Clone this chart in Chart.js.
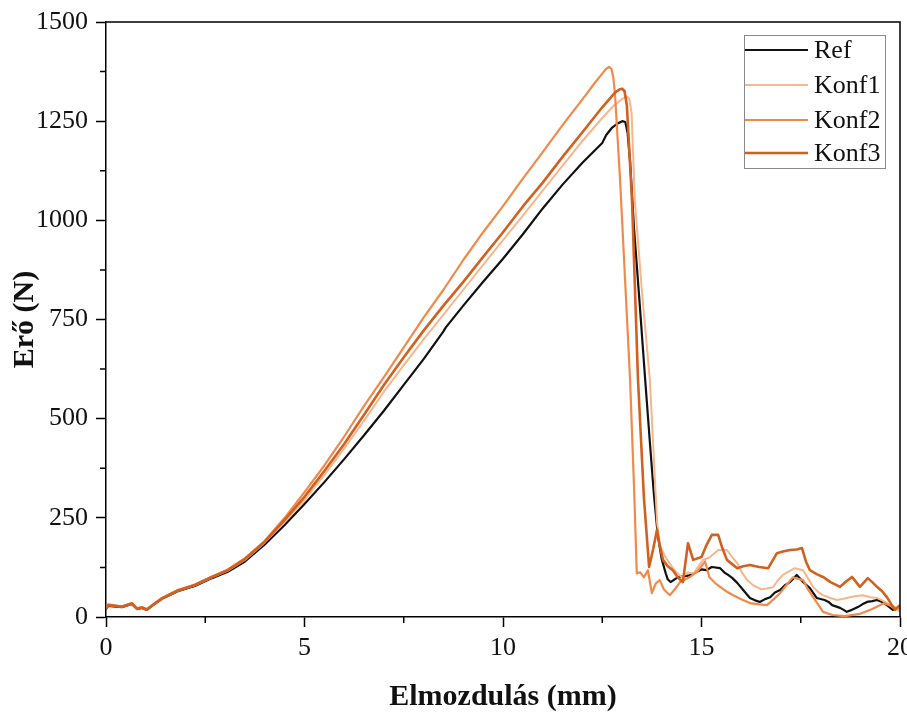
<!DOCTYPE html>
<html>
<head>
<meta charset="utf-8">
<script src="https://cdn.jsdelivr.net/npm/chart.js@4"></script>
<style>
html, body { margin: 0; padding: 0; background: #fff; }
</style>
</head>
<body>
<canvas id="graphique" width="907" height="717"></canvas>
<script>
// Elmozdulás (mm) -> Erő (N), pontok
const labels = ['Ref', 'Konf1', 'Konf2', 'Konf3'];
const xTicks = [0, 5, 10, 15, 20];
const yTicks = [0, 250, 500, 750, 1000, 1250, 1500];

const refPts = [
    [0, 20], [0.05, 28], [0.4, 25], [0.65, 33], [0.78, 20], [0.9, 23], [1.03, 18], [1.16, 28],
    [1.41, 46], [1.81, 65], [2.24, 78], [2.67, 98], [3.07, 114], [3.5, 140], [4.0, 183],
    [4.5, 232], [5.0, 285], [5.5, 340], [6.0, 398], [6.5, 458], [7.0, 520], [7.5, 585],
    [8.0, 650], [8.5, 720], [8.56, 730], [9.0, 785], [9.5, 845], [10.0, 903], [10.5, 965],
    [11.0, 1030], [11.5, 1090], [12.0, 1145], [12.5, 1195], [12.6, 1215], [12.75, 1234],
    [12.9, 1245], [13.0, 1250], [13.08, 1248], [13.14, 1220], [13.2, 1150], [13.3, 980],
    [13.45, 780], [13.58, 600], [13.7, 440], [13.8, 310], [13.9, 205], [14.0, 145], [14.1, 110],
    [14.15, 95], [14.22, 88], [14.4, 100], [14.7, 105], [15.0, 120], [15.12, 118], [15.26, 126],
    [15.47, 123], [15.58, 112], [15.67, 106], [15.78, 98], [15.9, 86], [16.05, 68], [16.22, 48],
    [16.35, 42], [16.47, 38], [16.6, 45], [16.73, 50], [16.85, 62], [16.98, 68], [17.1, 80],
    [17.23, 88], [17.4, 106], [17.56, 88], [17.65, 80], [17.73, 73], [17.9, 48], [18.1, 43],
    [18.2, 38], [18.29, 30], [18.49, 23], [18.58, 18], [18.66, 13], [18.79, 18], [18.94, 25],
    [19.05, 32], [19.17, 38], [19.3, 40], [19.42, 43], [19.55, 38], [19.67, 30], [19.82, 18],
    [19.9, 20]
];
const konf1Pts = [
    [0, 22], [0.05, 30], [0.4, 26], [0.65, 34], [0.78, 21], [0.9, 24], [1.03, 19], [1.16, 29],
    [1.41, 47], [1.81, 66], [2.24, 80], [2.67, 100], [3.07, 117], [3.5, 144], [4.0, 188],
    [4.5, 240], [5.0, 295], [5.5, 358], [6.0, 425], [6.5, 495], [7.0, 568], [7.5, 635],
    [8.0, 700], [8.5, 762], [9.0, 825], [9.5, 888], [10.0, 950], [10.5, 1012], [11.0, 1075],
    [11.5, 1138], [12.0, 1200], [12.5, 1258], [12.8, 1290], [13.0, 1306], [13.12, 1312],
    [13.18, 1306], [13.24, 1270], [13.32, 1051], [13.5, 820], [13.7, 597], [13.8, 400],
    [13.88, 240], [13.95, 180], [14.1, 150], [14.3, 120], [14.5, 100], [14.65, 112], [14.8, 110],
    [15.04, 144], [15.2, 150], [15.42, 169], [15.64, 169], [15.78, 150], [15.9, 136], [16.02, 112],
    [16.15, 93], [16.3, 80], [16.5, 70], [16.65, 72], [16.8, 75], [16.92, 92], [17.05, 106],
    [17.2, 115], [17.35, 123], [17.56, 118], [17.68, 98], [17.81, 76], [17.95, 62], [18.06, 55],
    [18.25, 48], [18.41, 43], [18.58, 46], [18.74, 50], [18.9, 53], [19.07, 55], [19.25, 50],
    [19.42, 48], [19.55, 42], [19.67, 35], [19.8, 26], [19.92, 18], [20, 15]
];
const konf2Pts = [
    [0, 25], [0.05, 32], [0.4, 27], [0.65, 35], [0.78, 22], [0.9, 25], [1.03, 20], [1.16, 30],
    [1.41, 48], [1.81, 68], [2.24, 82], [2.67, 102], [3.07, 120], [3.5, 148], [4.0, 192],
    [4.5, 250], [5.0, 315], [5.5, 382], [6.0, 455], [6.5, 532], [7.0, 605], [7.5, 680],
    [8.0, 755], [8.5, 825], [9.0, 900], [9.5, 970], [10.0, 1036], [10.5, 1105], [11.0, 1172],
    [11.5, 1240], [12.0, 1305], [12.3, 1345], [12.5, 1370], [12.6, 1382], [12.67, 1387],
    [12.73, 1382], [12.78, 1360], [12.82, 1320], [12.95, 1100], [13.05, 900], [13.2, 600],
    [13.3, 330], [13.37, 110], [13.45, 113], [13.55, 100], [13.65, 118], [13.75, 60], [13.85, 85],
    [13.95, 93], [14.05, 70], [14.2, 55], [14.33, 70], [14.46, 88], [14.6, 95], [14.71, 101],
    [14.9, 115], [15.09, 140], [15.2, 100], [15.35, 85], [15.47, 76], [15.62, 65], [15.8, 55],
    [16.0, 45], [16.22, 35], [16.45, 32], [16.65, 30], [16.82, 45], [16.98, 60], [17.15, 82],
    [17.3, 100], [17.44, 96], [17.56, 93], [17.68, 70], [17.81, 50], [17.95, 30], [18.06, 13],
    [18.3, 5], [18.6, 2], [19.0, 8], [19.3, 20], [19.6, 35], [19.85, 25], [20, 20]
];
const konf3Pts = [
    [0, 22], [0.05, 30], [0.4, 26], [0.65, 34], [0.78, 21], [0.9, 24], [1.03, 19], [1.16, 29],
    [1.41, 47], [1.81, 67], [2.24, 81], [2.67, 101], [3.07, 118], [3.5, 146], [4.0, 190],
    [4.5, 245], [5.0, 303], [5.5, 368], [6.0, 436], [6.5, 510], [7.0, 585], [7.5, 655],
    [8.0, 722], [8.5, 785], [9.0, 845], [9.5, 908], [10.0, 970], [10.5, 1035], [11.0, 1095],
    [11.5, 1160], [12.0, 1222], [12.5, 1285], [12.82, 1322], [12.93, 1330], [13.0, 1332],
    [13.06, 1326], [13.12, 1290], [13.25, 1050], [13.4, 600], [13.55, 300], [13.68, 126],
    [13.78, 170], [13.88, 220], [13.95, 180], [14.03, 144], [14.15, 128], [14.28, 118], [14.4, 100],
    [14.53, 88], [14.66, 186], [14.79, 144], [15.0, 151], [15.12, 180], [15.26, 207], [15.42, 207],
    [15.52, 175], [15.64, 144], [15.9, 123], [16.05, 128], [16.22, 131], [16.45, 126], [16.68, 123],
    [16.9, 161], [17.05, 165], [17.23, 169], [17.4, 170], [17.53, 174], [17.63, 140], [17.73, 118],
    [17.9, 108], [18.06, 101], [18.25, 88], [18.49, 76], [18.65, 90], [18.79, 101], [18.99, 76],
    [19.19, 98], [19.3, 88], [19.42, 76], [19.55, 65], [19.67, 50], [19.87, 18], [20, 30]
];

const couleurs = ['#111111', '#f7b68c', '#f08a4a', '#d2601e'];
const epaisseurs = [2.2, 2, 2.2, 2.6];
const series = [refPts, konf1Pts, konf2Pts, konf3Pts];
const ordres = [4, 3, 2, 1];

const police = 'Liberation Serif, Times New Roman, serif';

function toXY(pts) {
    return pts.map(p => ({ x: p[0], y: p[1] }));
}

// ticks mineurs, cadre haut/droite, légende dans la zone
const cadrePlugin = {
    id: 'cadre',
    afterDraw(chart) {
        const ctx = chart.ctx;
        const a = chart.chartArea;
        const xs = chart.scales.x;
        const ys = chart.scales.y;
        ctx.save();
        ctx.strokeStyle = '#000';
        ctx.lineWidth = 1.5;
        ctx.beginPath();
        ctx.moveTo(a.left, a.top);
        ctx.lineTo(a.right, a.top);
        ctx.lineTo(a.right, a.bottom);
        ctx.stroke();
        ctx.beginPath();
        for (let i = 0; i < xTicks.length - 1; i++) {
            const px = xs.getPixelForValue((xTicks[i] + xTicks[i + 1]) / 2);
            ctx.moveTo(px, a.bottom);
            ctx.lineTo(px, a.bottom + 6);
        }
        for (let i = 0; i < yTicks.length - 1; i++) {
            const py = ys.getPixelForValue((yTicks[i] + yTicks[i + 1]) / 2);
            ctx.moveTo(a.left, py);
            ctx.lineTo(a.left - 6, py);
        }
        ctx.stroke();

        // légende
        const lx = 744, ly = 35, lw = 141, lh = 133;
        ctx.fillStyle = '#fff';
        ctx.fillRect(lx, ly, lw, lh);
        ctx.strokeStyle = '#8a8a8a';
        ctx.lineWidth = 1;
        ctx.strokeRect(lx + 0.5, ly + 0.5, lw, lh);
        ctx.font = '26px ' + police;
        ctx.textBaseline = 'middle';
        ctx.textAlign = 'left';
        const rows = [50, 85, 120, 153];
        chart.data.datasets.forEach((ds, i) => {
            ctx.strokeStyle = ds.borderColor;
            ctx.lineWidth = ds.borderWidth;
            ctx.beginPath();
            ctx.moveTo(lx + 1, rows[i]);
            ctx.lineTo(808, rows[i]);
            ctx.stroke();
            ctx.fillStyle = '#111';
            ctx.fillText(ds.label, 814, rows[i] + 1);
        });
        ctx.restore();
    }
};

const ctx = document.getElementById('graphique').getContext('2d');
new Chart(ctx, {
    type: 'line',
    data: {
        datasets: series.map((pts, i) => ({
            label: labels[i],
            data: toXY(pts),
            borderColor: couleurs[i],
            borderWidth: epaisseurs[i],
            pointRadius: 0,
            fill: false,
            tension: 0,
            borderJoinStyle: 'round',
            order: ordres[i]
        }))
    },
    options: {
        responsive: false,
        animation: false,
        layout: { padding: { left: 0, right: 7, top: 22, bottom: 0 } },
        plugins: {
            legend: { display: false },
            tooltip: { enabled: false }
        },
        scales: {
            x: {
                type: 'linear',
                min: 0,
                max: 20,
                afterBuildTicks(s) { s.ticks = xTicks.map(v => ({ value: v })); },
                afterFit(s) { s.height = 100; s.paddingRight = 0; s.paddingLeft = 0; },
                ticks: {
                    color: '#111',
                    font: { family: police, size: 26 },
                    padding: 6,
                    maxRotation: 0,
                    callback: v => String(v)
                },
                grid: {
                    drawOnChartArea: false,
                    drawTicks: true,
                    tickLength: 10,
                    tickColor: '#000',
                    tickWidth: 1.5
                },
                border: { color: '#000', width: 1.5 },
                title: {
                    display: true,
                    text: 'Elmozdulás (mm)',
                    color: '#111',
                    font: { family: police, size: 30, weight: 'bold' },
                    padding: { top: 0, bottom: 2 }
                }
            },
            y: {
                min: 0,
                max: 1500,
                afterBuildTicks(s) { s.ticks = yTicks.map(v => ({ value: v })); },
                afterFit(s) { s.width = 106; s.paddingTop = 0; s.paddingBottom = 0; },
                ticks: {
                    color: '#111',
                    font: { family: police, size: 26 },
                    padding: 8,
                    callback: v => String(v)
                },
                grid: {
                    drawOnChartArea: false,
                    drawTicks: true,
                    tickLength: 10,
                    tickColor: '#000',
                    tickWidth: 1.5
                },
                border: { color: '#000', width: 1.5 },
                title: {
                    display: true,
                    text: 'Erő (N)',
                    color: '#111',
                    font: { family: police, size: 30, weight: 'bold' },
                    padding: { top: 7, bottom: 0 }
                }
            }
        }
    },
    plugins: [cadrePlugin]
});
</script>
</body>
</html>
